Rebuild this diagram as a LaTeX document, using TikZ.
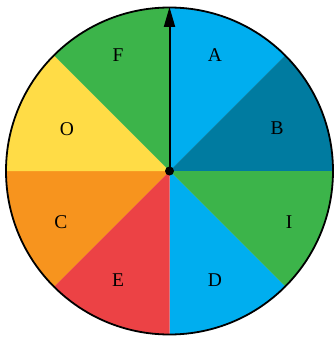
\documentclass[tikz,border=0pt]{standalone}
\usepackage{fontspec}
\setmainfont{Liberation Serif}
\usetikzlibrary{arrows.meta}
\definecolor{cLB}{HTML}{00AEEF}
\definecolor{cDB}{HTML}{007BA0}
\definecolor{cGR}{HTML}{3CB44A}
\definecolor{cYE}{HTML}{FFDC46}
\definecolor{cOR}{HTML}{F7941E}
\definecolor{cRE}{HTML}{EC4245}
\tikzset{
  lbl/.style={font=\fontsize{19.5}{19.5}\selectfont, text=black, inner sep=0pt},
}
\begin{document}
\begin{tikzpicture}[x=1pt,y=-1pt]
\useasboundingbox (0,0) rectangle (334,337);
\def\R{163.5}
\coordinate (O) at (169.5,171);
\foreach \a/\b/\c in {45/90/cLB, 0/45/cDB, -45/0/cGR, -90/-45/cLB, -135/-90/cRE, -180/-135/cOR, 135/180/cYE, 90/135/cGR}{
  \fill[\c] (O) -- ++({\R*cos(\a)},{-\R*sin(\a)}) arc[start angle=-\a, end angle=-\b, radius=\R] -- cycle;
}
\draw[line width=1.8pt] (O) circle[radius=\R];
\node[lbl] (A) at (215,55) {A};
\node[lbl] (B) at (277,128.5) {B};
\node[lbl] (I) at (289,222) {I};
\node[lbl] (D) at (215,280) {D};
\node[lbl] (E) at (118,280) {E};
\node[lbl] (C) at (61,222) {C};
\node[lbl] (Oo) at (67,129.5) {O};
\node[lbl] (F) at (118,55) {F};
\coordinate (tip) at (169.5,7);
\draw[line width=2pt, -{Triangle[length=20pt,width=11pt]}] (O) -- (tip);
\fill[black] (O) circle[radius=4.5];
\end{tikzpicture}
\end{document}
